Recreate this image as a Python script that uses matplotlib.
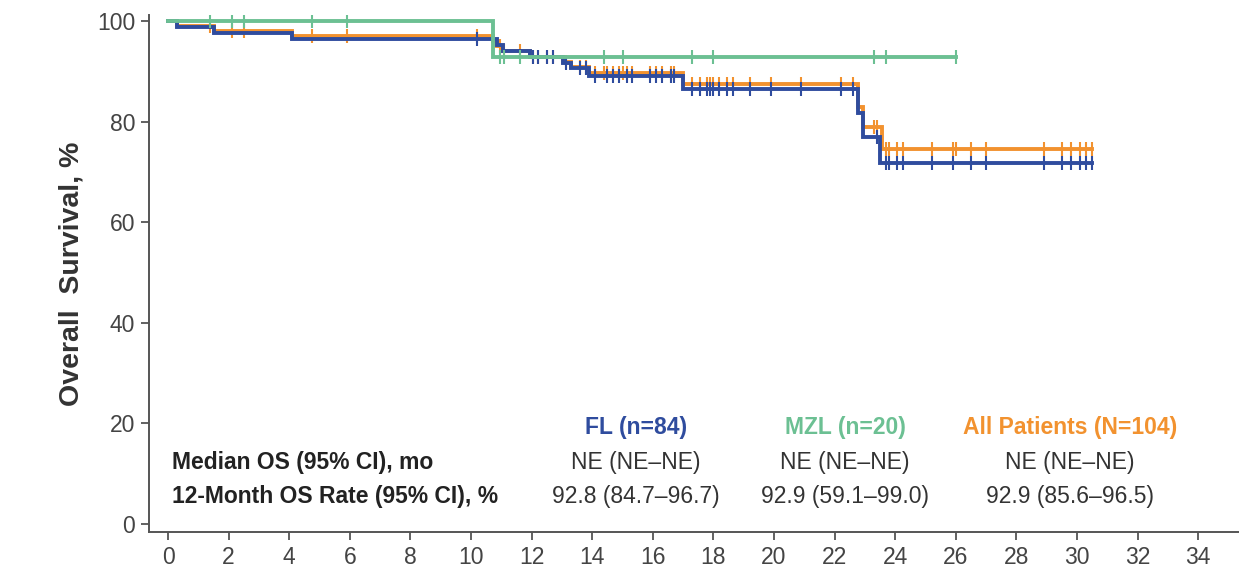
import numpy as np
import matplotlib
matplotlib.use("Agg")
import matplotlib.pyplot as plt

# ---------------- data ----------------
fl_times = [0, 0.3, 1.5, 4.1, 10.85, 11.05, 11.95, 13.05, 13.3, 13.9, 17.0, 22.77, 22.95, 23.5]
fl_surv = [100, 98.8, 97.6, 96.4, 95.2, 94.0, 92.8, 91.7, 90.6, 89.1, 86.4, 81.8, 77.0, 71.8]
fl_end = 30.5
fl_censor = [10.2, 12.05, 12.2, 12.5, 12.7, 13.15, 13.6, 13.8, 14.1, 14.5, 14.7, 14.9, 15.15,
             15.3, 15.9, 16.1, 16.3, 16.6, 16.7, 17.3, 17.55, 17.8, 17.9, 18.0, 18.2, 18.45,
             18.65, 19.2, 19.9, 20.9, 22.2, 22.6, 23.4, 23.7, 23.8, 24.05, 24.25, 25.2, 25.9,
             26.5, 27.0, 28.9, 29.5, 29.8, 30.1, 30.3, 30.5]

mzl_times = [0, 10.73]
mzl_surv = [100, 92.9]
mzl_end = 26.0
mzl_censor = [1.4, 2.1, 2.5, 4.75, 5.9, 10.96, 11.1, 11.6, 14.4, 15.0, 17.3, 18.0, 23.3, 23.7, 26.0]

all_times = [0, 0.3, 1.5, 4.1, 10.73, 10.85, 11.05, 11.95, 13.05, 13.3, 13.9, 17.0, 22.77, 22.95, 23.55]
all_surv = [100, 99.0, 98.1, 97.1, 96.1, 95.1, 94.0, 92.9, 91.9, 90.8, 89.6, 87.4, 83.0, 79.0, 74.6]
all_end = 30.5
all_censor = sorted(set(fl_censor + mzl_censor))

x_ticks = list(range(0, 35, 2))
y_ticks = [0, 20, 40, 60, 80, 100]

col_headers = ["FL (n=84)", "MZL (n=20)", "All Patients (N=104)"]
median_os = ["NE (NE\u2013NE)", "NE (NE\u2013NE)", "NE (NE\u2013NE)"]
rate_12m = ["92.8 (84.7\u201396.7)", "92.9 (59.1\u201399.0)", "92.9 (85.6\u201396.5)"]
row_labels = ["Median OS (95% CI), mo", "12-Month OS Rate (95% CI), %"]

# ---------------- style ----------------
C_FL = "#2F4C9E"
C_MZL = "#6CC093"
C_ALL = "#F2922F"
TXT = "#333333"
FONT = ["Liberation Sans", "DejaVu Sans"]

fig = plt.figure(figsize=(12.39, 5.75), dpi=100)
ax = fig.add_axes([149 / 1239, 1 - 532 / 575, 1 - 149 / 1239, (532 - 15) / 575])


def km(ax, times, surv, end, censor, color, z):
    t = list(times) + [end]
    s = list(surv) + [surv[-1]]
    ax.step(t, s, where="post", color=color, lw=2.8, zorder=z, solid_joinstyle="miter")
    c = np.array(censor)
    idx = np.searchsorted(np.array(times), c, side="right") - 1
    cy = np.array(surv)[idx]
    ax.plot(c, cy, ls="none", marker="|", ms=10, mew=1.5, color=color, zorder=z)


km(ax, all_times, all_surv, all_end, all_censor, C_ALL, 3)
km(ax, fl_times, fl_surv, fl_end, fl_censor, C_FL, 4)
km(ax, mzl_times, mzl_surv, mzl_end, mzl_censor, C_MZL, 5)

ax.set_xlim(-0.63, 35.35)
ax.set_ylim(-1.6, 101.2)
ax.set_xticks(x_ticks)
ax.set_yticks(y_ticks)
for sp in ["top", "right"]:
    ax.spines[sp].set_visible(False)
for sp in ["left", "bottom"]:
    ax.spines[sp].set_color("#555555")
    ax.spines[sp].set_linewidth(1.4)
ax.tick_params(axis="both", direction="out", length=6, width=1.3, color="#555555",
               labelcolor="#444444", labelsize=16.5, pad=4)
for lab in ax.get_xticklabels() + ax.get_yticklabels():
    lab.set_family(FONT)

ax.set_ylabel("Overall  Survival, %", fontsize=20.5, fontweight="bold", color="#333333",
              family=FONT, labelpad=9)

# ---------------- table text ----------------
col_x = [(636 - 168) / 30.3, (845 - 168) / 30.3, (1070 - 168) / 30.3]
row_y = [(524 - 428) / 5.02, (524 - 463) / 5.02, (524 - 497) / 5.02]
colors = [C_FL, C_MZL, C_ALL]
for i in range(3):
    ax.text(col_x[i], row_y[0], col_headers[i], ha="center", va="center", fontsize=16.5,
            fontweight="bold", color=colors[i], family=FONT)
    ax.text(col_x[i], row_y[1], median_os[i], ha="center", va="center", fontsize=16.5,
            color=TXT, family=FONT)
    ax.text(col_x[i], row_y[2], rate_12m[i], ha="center", va="center", fontsize=16.5,
            color=TXT, family=FONT)
lab_x = (172 - 168) / 30.3
for j, lab in enumerate(row_labels):
    ax.text(lab_x, row_y[j + 1], lab, ha="left", va="center", fontsize=16.5,
            fontweight="bold", color="#222222", family=FONT)

fig.savefig("out.png", dpi=100)
